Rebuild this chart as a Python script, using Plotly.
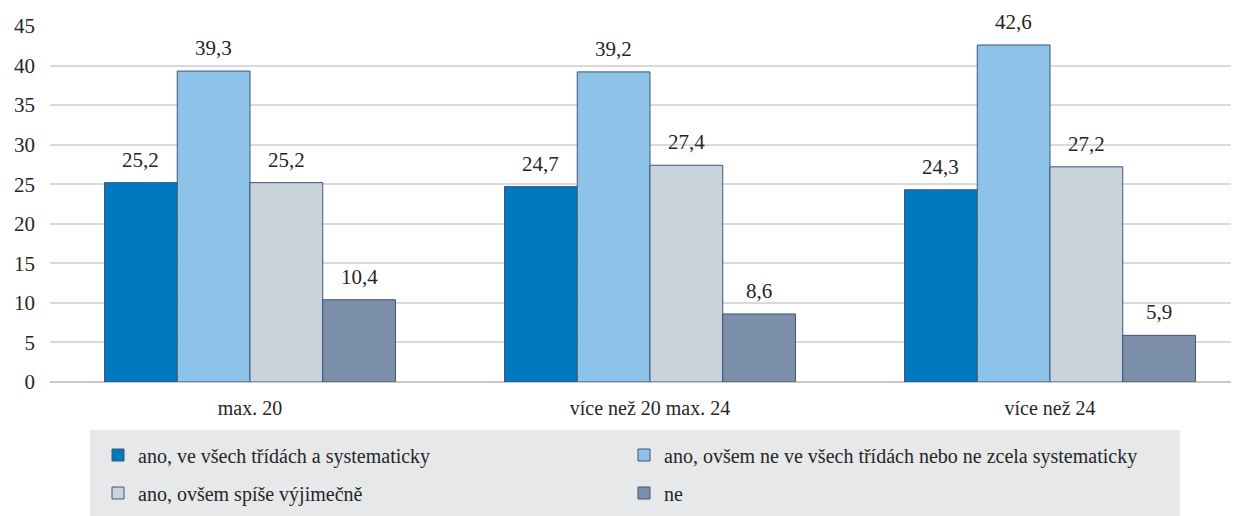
import plotly.graph_objects as go

categories = ["max. 20", "více než 20 max. 24", "více než 24"]
series_names = [
    "ano, ve všech třídách a systematicky",
    "ano, ovšem ne ve všech třídách nebo ne zcela systematicky",
    "ano, ovšem spíše výjimečně",
    "ne",
]
v_all_systematic = [25.2, 24.7, 24.3]
v_not_all = [39.3, 39.2, 42.6]
v_exceptional = [25.2, 27.4, 27.2]
v_no = [10.4, 8.6, 5.9]
series_values = [v_all_systematic, v_not_all, v_exceptional, v_no]
colors = ["#0079C1", "#8DC3E8", "#C9D3DC", "#7B8FA8"]
legend_ids = ["legend", "legend", "legend2", "legend2"]

FONT = "Times New Roman"
OFF = 8  # page body margin
W, H = 1239 - OFF, 516 - OFF
ml, mt = 50 - OFF, 26 - OFF
plot_right, plot_bottom = 1235 - OFF, 382 - OFF
mr, mb = W - plot_right, H - plot_bottom
plot_w = W - ml - mr
plot_h = H - mt - mb

BARGAP = 0.2725
n_series = len(series_values)
bar_w = (1 - BARGAP) / n_series

fig = go.Figure()
xs = list(range(len(categories)))
for name, vals, col, lg in zip(series_names, series_values, colors, legend_ids):
    fig.add_trace(go.Bar(
        x=xs, y=vals, name=name,
        marker=dict(color=col, line=dict(color="#3F5574", width=1)),
        legend=lg,
    ))

# value labels above bars
for i, vals in enumerate(series_values):
    for j, v in enumerate(vals):
        fig.add_annotation(
            x=j + (i - (n_series - 1) / 2) * bar_w, y=v,
            text=f"{v:.1f}".replace(".", ","),
            showarrow=False, yanchor="middle", xanchor="center", yshift=23,
            font=dict(family=FONT, size=21, color="#262626"),
        )

def px_x(p):
    return (p - OFF - ml) / plot_w

def px_y(p):
    return (H - mb - (p - OFF)) / plot_h

fig.add_shape(type="rect", xref="paper", yref="paper",
              x0=px_x(90), x1=px_x(1180), y0=px_y(430), y1=px_y(520),
              fillcolor="#E7E8EA", line=dict(width=0), layer="below")

legend_common = dict(
    orientation="h", bgcolor="rgba(0,0,0,0)", borderwidth=0,
    font=dict(family=FONT, size=20, color="#262626"),
    entrywidth=481, entrywidthmode="pixels",
    itemwidth=30, xanchor="left", yanchor="middle", traceorder="normal",
)

fig.update_layout(
    width=W, height=H,
    margin=dict(l=ml, r=mr, t=mt, b=mb),
    plot_bgcolor="white", paper_bgcolor="white",
    barmode="group", bargap=BARGAP, bargroupgap=0,
    font=dict(family=FONT, size=20, color="#262626"),
    xaxis=dict(
        tickvals=xs, ticktext=categories,
        range=[-0.5, -0.5 + plot_w / 400.0],
        showgrid=False, zeroline=False, showline=False,
        ticks="", ticklabelstandoff=12,
        tickfont=dict(family=FONT, size=20, color="#262626"),
    ),
    yaxis=dict(
        range=[0, 45], dtick=5, tick0=0,
        showgrid=True, gridcolor="#D9D9D9", gridwidth=2,
        zeroline=True, zerolinecolor="#C8C8C8", zerolinewidth=2,
        ticks="", ticklabelstandoff=14,
        tickfont=dict(family=FONT, size=21, color="#262626"),
    ),
    legend=dict(x=px_x(98), y=px_y(455), **legend_common),
    legend2=dict(x=px_x(98), y=px_y(493), **legend_common),
)

fig.write_html("out.html")
